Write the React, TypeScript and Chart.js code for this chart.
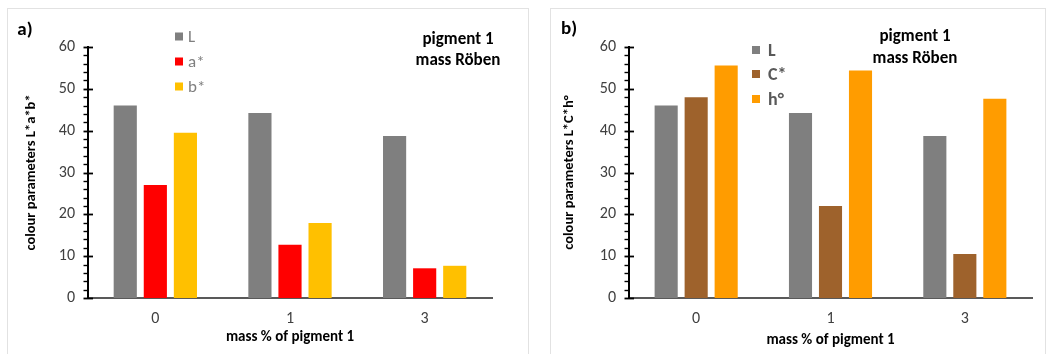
import React, { useEffect, useRef } from 'react';
import { Chart, registerables } from 'chart.js';

Chart.register(...registerables);

// ---------- data ----------
const categories = ['0', '1', '3'];
const labelsPanelA = ['L', 'a*', 'b*'];
const labelsPanelB = ['L', 'C*', 'h°'];
const valuesL = [46, 44.2, 38.7];
const valuesAStar = [27, 12.7, 7.1];
const valuesBStar = [39.5, 17.9, 7.7];
const valuesCStar = [48, 22, 10.5];
const valuesHue = [55.6, 54.4, 47.6];
const yMin = 0;
const yMax = 60;
const yStep = 10;
const yMinorStep = 2;

const colorsPanelA = ['#7f7f7f', '#ff0000', '#ffc000'];
const colorsPanelB = ['#7f7f7f', '#9e622c', '#ff9c00'];

const FONT = 'Carlito, Lato, "Open Sans", sans-serif';
const H = 354;

const tickMarks = {
  id: 'tickMarks',
  afterDraw(chart: any) {
    const y = chart.scales.y;
    const ctx = chart.ctx;
    const x0 = y.right;
    ctx.save();
    ctx.strokeStyle = '#000';
    for (let v = yMin; v <= yMax + 1e-9; v += yMinorStep) {
      const py = Math.round(y.getPixelForValue(v)) + 0.5;
      const major = Math.abs(v % yStep) < 1e-9;
      ctx.lineWidth = major ? 1.8 : 1.4;
      ctx.beginPath();
      ctx.moveTo(x0 - 4.5, py);
      ctx.lineTo(major ? x0 + 5 : x0, py);
      ctx.stroke();
    }
    ctx.restore();
  },
};

type PanelProps = {
  left: number;
  width: number;
  series: number[][];
  labels: string[];
  colors: string[];
  yTitle: string;
  padLeft: number;
  plotLeft: number;
  plotRight: number;
  padBottom: number;
};

function Panel(p: PanelProps) {
  const ref = useRef<HTMLCanvasElement | null>(null);
  useEffect(() => {
    if (!ref.current) return;
    const plotTop = 47;
    const plotBottom = 298;
    const chart = new Chart(ref.current, {
      type: 'bar',
      data: {
        labels: categories,
        datasets: p.series.map((d, i) => ({
          label: p.labels[i],
          data: d,
          backgroundColor: p.colors[i],
          borderWidth: 0,
          categoryPercentage: 0.67,
          barPercentage: 0.77,
        })),
      },
      options: {
        animation: false,
        responsive: false,
        devicePixelRatio: 1,
        events: [],
        layout: {
          padding: { left: p.padLeft, top: plotTop, right: p.width - p.plotRight, bottom: p.padBottom },
        },
        plugins: { legend: { display: false }, tooltip: { enabled: false }, title: { display: false } },
        scales: {
          x: {
            grid: { display: false, drawTicks: false },
            border: { display: true, color: '#595959', width: 2 },
            ticks: { font: { family: FONT, size: 16 }, color: '#404040', padding: 11 },
            title: {
              display: true,
              text: 'mass % of pigment 1',
              font: { family: FONT, size: 15, weight: 'bold' },
              color: '#000',
              padding: { top: 4, bottom: 4 },
            },
            afterFit: (s: any) => {
              s.height = H - p.padBottom - plotBottom;
            },
          },
          y: {
            min: yMin,
            max: yMax,
            grid: { display: false, drawTicks: false },
            border: { display: true, color: '#000', width: 2 },
            ticks: { stepSize: yStep, font: { family: FONT, size: 16 }, color: '#404040', padding: 13 },
            title: {
              display: true,
              text: p.yTitle,
              font: { family: FONT, size: 14.5, weight: 'bold' },
              color: '#000',
              padding: { top: 3, bottom: 4 },
            },
            afterFit: (s: any) => {
              s.width = p.plotLeft - p.padLeft;
            },
          },
        },
      },
      plugins: [tickMarks],
    } as any);
    return () => chart.destroy();
  }, []);
  return (
    <canvas
      ref={ref}
      width={p.width}
      height={H}
      style={{ position: 'absolute', left: p.left, top: 0, width: p.width, height: H }}
    />
  );
}

const centered = (x: number, y: number, extra: React.CSSProperties): React.CSSProperties => ({
  position: 'absolute',
  left: x,
  top: y,
  transform: 'translate(-50%, -50%)',
  whiteSpace: 'nowrap',
  lineHeight: 1,
  fontFamily: FONT,
  ...extra,
});

function Legend(props: { x: number; rows: number[]; labels: string[]; colors: string[]; textColor: string; size: number; weight: any; gap: number }) {
  return (
    <>
      {props.labels.map((l, i) => (
        <div
          key={l}
          style={{
            position: 'absolute',
            left: props.x,
            top: props.rows[i],
            transform: 'translateY(-50%)',
            display: 'flex',
            alignItems: 'center',
            whiteSpace: 'nowrap',
            lineHeight: 1,
            fontFamily: FONT,
            fontSize: props.size,
            fontWeight: props.weight,
            color: props.textColor,
          }}
        >
          <span style={{ display: 'inline-block', width: 8, height: 8, background: props.colors[i], marginRight: props.gap }} />
          <span>{l}</span>
        </div>
      ))}
    </>
  );
}

export default function App() {
  return (
    <div style={{ position: 'absolute', left: 0, top: 0, width: 1058, height: H, background: '#fff', overflow: 'hidden' }}>
      <div style={{ position: 'absolute', left: 7, top: 8, width: 522, height: 360, border: '1px solid #e2e2e2', boxSizing: 'border-box' }} />
      <div style={{ position: 'absolute', left: 550, top: 8, width: 496, height: 360, border: '1px solid #e2e2e2', boxSizing: 'border-box' }} />
      <Panel
        left={0}
        width={530}
        series={[valuesL, valuesAStar, valuesBStar]}
        labels={labelsPanelA}
        colors={colorsPanelA}
        yTitle="colour parameters L*a*b*"
        padLeft={20}
        plotLeft={88}
        plotRight={492}
        padBottom={4}
      />
      <Panel
        left={530}
        width={528}
        series={[valuesL, valuesCStar, valuesHue]}
        labels={labelsPanelB}
        colors={colorsPanelB}
        yTitle="colour parameters L*C*h°"
        padLeft={28}
        plotLeft={99}
        plotRight={502}
        padBottom={1}
      />
      <div style={centered(25, 28, { fontSize: 19, fontWeight: 'bold', color: '#000' })}>a)</div>
      <div style={centered(569, 27, { fontSize: 19, fontWeight: 'bold', color: '#000' })}>b)</div>
      <div style={centered(458, 38, { fontSize: 17, fontWeight: 'bold', color: '#000' })}>pigment 1</div>
      <div style={centered(458, 59, { fontSize: 17, fontWeight: 'bold', color: '#000' })}>mass Röben</div>
      <div style={centered(915, 35, { fontSize: 17, fontWeight: 'bold', color: '#000' })}>pigment 1</div>
      <div style={centered(915, 57, { fontSize: 17, fontWeight: 'bold', color: '#000' })}>mass Röben</div>
      <Legend x={175} rows={[36, 61, 86]} labels={labelsPanelA} colors={colorsPanelA} textColor="#7f7f7f" size={17} weight="normal" gap={5} />
      <Legend x={752} rows={[50, 74, 99]} labels={labelsPanelB} colors={colorsPanelB} textColor="#595959" size={18} weight="bold" gap={8} />
    </div>
  );
}
